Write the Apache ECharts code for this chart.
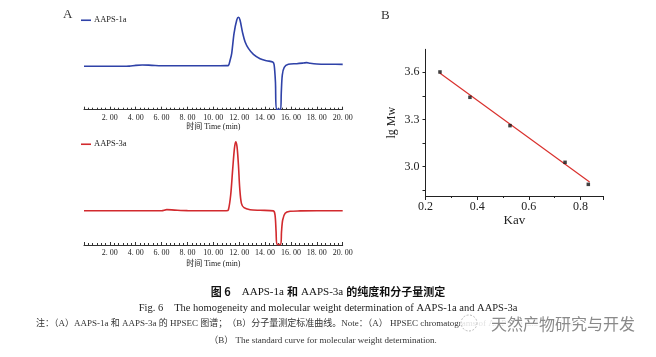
<!DOCTYPE html>
<html>
<head>
<meta charset="utf-8">
<script src="https://cdn.jsdelivr.net/npm/echarts@6/dist/echarts.min.js"></script>
<style>html,body{margin:0;padding:0;background:#fff;}#c{width:656px;height:357px;}</style>
</head>
<body>
<div id="c"></div>
<script>
// ---- Data ----
// Panel A, upper: AAPS-1a HPSEC trace (time in min, relative signal)
var time1a = [0, 1, 2, 3, 3.5, 4, 4.5, 5, 5.5, 6, 8, 10, 10.5, 11.0, 11.16, 11.3, 11.42, 11.6, 11.81, 11.94, 12.06, 12.27, 12.45, 12.71, 13.1, 13.61, 14.13, 14.59, 14.7, 14.8, 14.88, 15.2, 15.25, 15.33, 15.48, 15.8, 16.45, 16.96, 17.22, 17.48, 18, 19, 20];
var sig1a  = [47.0, 47.0, 47.0, 47.0, 47.2, 48.0, 48.4, 48.2, 47.8, 47.6, 47.6, 47.6, 47.6, 47.7, 47.9, 53.8, 61.0, 82.7, 97, 100, 97, 82.7, 73.6, 66.4, 59.9, 55.2, 53.0, 51.6, 48.6, 30, 0.5, 0.5, 17.7, 37.5, 45.9, 49.1, 49.8, 50.5, 50.9, 50.2, 49.5, 49.2, 49.1];
// Panel A, lower: AAPS-3a HPSEC trace
var time3a = [0, 2, 4, 6, 6.4, 7, 8, 10, 11.0, 11.16, 11.34, 11.5, 11.63, 11.73, 11.83, 11.94, 12.04, 12.17, 12.37, 12.84, 13.61, 14.64, 14.77, 14.85, 14.92, 15.2, 15.27, 15.36, 15.55, 15.93, 16.71, 18, 20];
var sig3a  = [33.2, 33.2, 33.2, 33.2, 34.2, 33.8, 33.3, 33.2, 33.2, 33.9, 48.4, 74.2, 93.6, 100, 95.2, 77.4, 54.9, 40.3, 36.1, 34.2, 33.6, 33.0, 29.0, 12.9, 0.5, 0.5, 12.9, 24.2, 30.7, 32.6, 33.0, 33.2, 33.2];
// Panel B: standard curve
var kav   = [0.256, 0.372, 0.527, 0.740, 0.830];
var lgMw  = [3.602, 3.441, 3.261, 3.028, 2.888];
var fitKav = [0.255, 0.835];
var fitLg  = [3.595, 2.903];
var bYTicks = [3.0, 3.3, 3.6];
var bYMinorTicks = [2.85, 3.0, 3.15, 3.3, 3.45, 3.6];

function pairs(xs, ys) { return xs.map(function (x, i) { return [x, ys[i]]; }); }

var serif = '"Liberation Serif", "Noto Sans CJK SC", serif';
var timeAxis = function (gi, gap) {
  return {
    type: 'value', gridIndex: gi, min: 0, max: 20, interval: 2,
    name: '时间 Time (min)', nameLocation: 'middle', nameGap: gap,
    nameTextStyle: { fontFamily: serif, fontSize: 8, color: '#222' },
    axisLine: { show: true, onZero: false, lineStyle: { color: '#333', width: 1 } },
    axisTick: { show: true, inside: true, length: 3, lineStyle: { color: '#333' } },
    minorTick: { show: true, splitNumber: 6, length: 2, lineStyle: { color: '#333' } },
    axisLabel: { showMinLabel: false, margin: 4, fontFamily: serif, fontSize: 8, color: '#222',
      formatter: function (v) { return v.toFixed(2).replace('.', '. '); } },
    splitLine: { show: false }, minorSplitLine: { show: false }
  };
};

var chart = echarts.init(document.getElementById('c'), null, { renderer: 'canvas' });
chart.setOption({
  animation: false,
  backgroundColor: '#fff',
  grid: [
    { left: 84, top: 17.3, width: 258.7, height: 92.4 },
    { left: 84, top: 141.7, width: 258.7, height: 103.3 },
    { left: 425.5, top: 49.3, width: 177.8, height: 146.7 }
  ],
  legend: [
    { data: ['AAPS-1a'], left: 81, top: 16, padding: 0, icon: 'rect', itemWidth: 10, itemHeight: 1.6, itemGap: 0,
      textStyle: { fontFamily: serif, fontSize: 8.5, color: '#222', padding: [0, 0, 0, -2] } },
    { data: ['AAPS-3a'], left: 81, top: 140, padding: 0, icon: 'rect', itemWidth: 10, itemHeight: 1.6, itemGap: 0,
      textStyle: { fontFamily: serif, fontSize: 8.5, color: '#222', padding: [0, 0, 0, -2] } }
  ],
  xAxis: [
    timeAxis(0, 13),
    timeAxis(1, 15),
    {
      type: 'value', gridIndex: 2, min: 0.2, max: 0.888, interval: 0.2,
      name: 'Kav', nameLocation: 'middle', nameGap: 17,
      nameTextStyle: { fontFamily: serif, fontSize: 13, color: '#222' },
      axisLine: { show: true, onZero: false, lineStyle: { color: '#222', width: 1 } },
      axisTick: { show: true, length: 4, lineStyle: { color: '#222' } },
      minorTick: { show: true, splitNumber: 2, length: 2, lineStyle: { color: '#222' } },
      axisLabel: { showMaxLabel: false, margin: 5, fontFamily: serif, fontSize: 12, color: '#222',
        formatter: function (v) { return v.toFixed(1); } },
      splitLine: { show: false }
    }
  ],
  yAxis: [
    { type: 'value', gridIndex: 0, min: 0, max: 100, show: false },
    { type: 'value', gridIndex: 1, min: 0, max: 100, show: false },
    {
      type: 'value', gridIndex: 2, min: 2.814, max: 3.746,
      name: 'lg Mw', nameLocation: 'middle', nameGap: 28,
      nameTextStyle: { fontFamily: serif, fontSize: 12, color: '#222' },
      axisLine: { show: true, onZero: false, lineStyle: { color: '#222', width: 1 } },
      axisTick: { show: true, length: 3, customValues: bYMinorTicks, lineStyle: { color: '#222' } },
      axisLabel: { margin: 6, fontFamily: serif, fontSize: 12, color: '#222', customValues: bYTicks,
        formatter: function (v) { return v.toFixed(1); } },
      splitLine: { show: false }
    }
  ],
  series: [
    { name: 'AAPS-1a', type: 'line', xAxisIndex: 0, yAxisIndex: 0, data: pairs(time1a, sig1a),
      smooth: 0.3, symbol: 'none', lineStyle: { color: '#2f42a8', width: 1.6 }, itemStyle: { color: '#2f42a8' }, clip: false },
    { name: 'AAPS-3a', type: 'line', xAxisIndex: 1, yAxisIndex: 1, data: pairs(time3a, sig3a),
      smooth: 0.3, symbol: 'none', lineStyle: { color: '#d22a2e', width: 1.6 }, itemStyle: { color: '#d22a2e' }, clip: false },
    { name: 'fit', type: 'line', xAxisIndex: 2, yAxisIndex: 2, data: pairs(fitKav, fitLg),
      symbol: 'none', lineStyle: { color: '#d9302c', width: 1.2 } },
    { name: 'std', type: 'scatter', xAxisIndex: 2, yAxisIndex: 2, data: pairs(kav, lgMw),
      symbol: 'rect', symbolSize: 3.5, itemStyle: { color: '#111' }, z: 5 }
  ],
  graphic: [
    { type: 'text', left: 63, top: 8, style: { text: 'A', font: '13px "Liberation Serif"', fill: '#333' } },
    { type: 'text', left: 381, top: 9, style: { text: 'B', font: '13px "Liberation Serif"', fill: '#333' } },
    { type: 'text', x: 328, y: 292, style: {
        text: '{cn|图 6}　{en|AAPS-1a} {cn|和} {en|AAPS-3a} {cn|的纯度和分子量测定}',
        align: 'center', verticalAlign: 'middle',
        rich: {
          cn: { fontFamily: '"Noto Sans CJK SC"', fontWeight: 'bold', fontSize: 11, fill: '#111' },
          en: { fontFamily: '"Liberation Serif"', fontSize: 11, fill: '#111' }
        }, fill: '#111', fontSize: 11 } },
    { type: 'text', x: 328, y: 308.5, style: {
        text: 'Fig. 6　The homogeneity and molecular weight determination of AAPS-1a and AAPS-3a',
        align: 'center', verticalAlign: 'middle', font: '10.5px "Liberation Serif"', fill: '#222' } },
    { type: 'text', x: 36, y: 324, style: {
        text: '注：（A）AAPS-1a 和 AAPS-3a 的 HPSEC 图谱；（B）分子量测定标准曲线。Note：（A） HPSEC chromatograms of AAPS-1a and AAPS-3a；',
        align: 'left', verticalAlign: 'middle', font: '9px "Liberation Serif", "Noto Sans CJK SC"', fill: '#333' } },
    { type: 'text', x: 323, y: 340.5, style: {
        text: '（B） The standard curve for molecular weight determination.',
        align: 'center', verticalAlign: 'middle', font: '9px "Liberation Serif", "Noto Sans CJK SC"', fill: '#333' } },
    { type: 'rect', shape: { x: 460, y: 315, width: 190, height: 17 }, style: { fill: 'rgba(255,255,255,0.85)' }, z: 10 },
    { type: 'circle', shape: { cx: 469, cy: 323, r: 8 }, style: { fill: 'none', stroke: '#aaa', lineWidth: 0.8, lineDash: [2, 1.5] }, z: 11 },
    { type: 'text', x: 491, y: 323.5, z: 11, style: {
        text: '天然产物研究与开发', align: 'left', verticalAlign: 'middle',
        font: '16px "Noto Sans CJK SC"', fill: '#8a8a8a', stroke: '#fff', lineWidth: 2 } }
  ]
});
</script>
</body>
</html>
